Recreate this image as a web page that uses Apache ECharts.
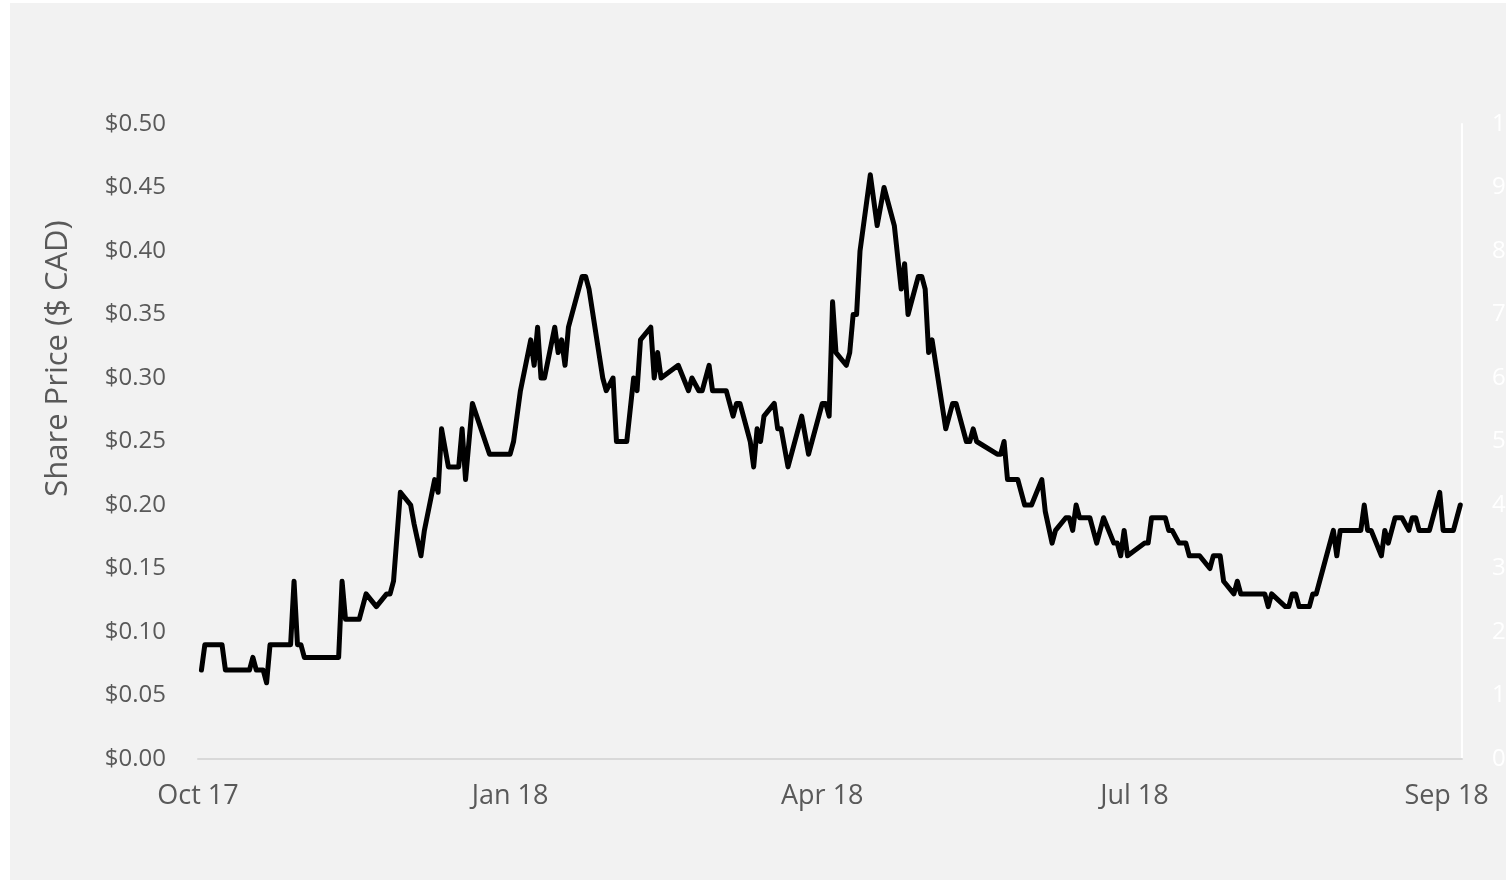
<!DOCTYPE html>
<html>
<head>
<meta charset="utf-8">
<script src="https://cdn.jsdelivr.net/npm/echarts@6/dist/echarts.min.js"></script>
<style>
  html, body { margin: 0; padding: 0; background: #fff; overflow: hidden; }
  #chart { position: absolute; left: 10px; top: 3px; width: 1496px; height: 877px; background: #f2f2f2; }
</style>
</head>
<body>
<div id="chart"></div>
<script>
// days since 1 Oct 2017 for each change in the line
const tradeDays = [
  1, 2, 7, 8, 15, 16, 17, 19, 20, 21,
  27, 28, 29, 30, 31, 41, 42, 43, 47, 49,
  52, 55, 56, 57, 59, 62, 63, 65, 66, 69,
  70, 71, 73, 76, 77, 78, 80, 85, 91, 92,
  94, 97, 98, 99, 100, 101, 104, 105, 106, 107,
  108, 112, 113, 114, 118, 119, 121, 122, 125, 127,
  128, 129, 132, 133, 134, 135, 140, 143, 144, 146,
  147, 149, 150, 154, 156, 157, 158, 161, 162, 163,
  164, 165, 168, 169, 170, 172, 176, 178, 182, 183,
  184, 185, 186, 189, 190, 191, 192, 193, 196, 198,
  200, 203, 205, 206, 207, 210, 211, 212, 213, 214,
  218, 220, 221, 224, 225, 226, 227, 233, 234, 235,
  236, 239, 241, 243, 246, 247, 249, 250, 253, 254,
  255, 256, 257, 260, 262, 264, 267, 268, 269, 270,
  271, 276, 277, 278, 282, 283, 284, 286, 288, 289,
  292, 295, 296, 298, 299, 302, 303, 304, 311, 312,
  313, 317, 318, 319, 320, 321, 324, 325, 326, 328,
  331, 332, 333, 339, 340, 341, 342, 345, 346, 347,
  349, 351, 353, 354, 355, 356, 359, 362, 363, 366,
  368
]

// share price ($ CAD)
const prices = [
  0.07, 0.09, 0.09, 0.07, 0.07, 0.08, 0.07, 0.07, 0.06, 0.09,
  0.09, 0.14, 0.09, 0.09, 0.08, 0.08, 0.14, 0.11, 0.11, 0.13,
  0.12, 0.13, 0.13, 0.14, 0.21, 0.20, 0.185, 0.16, 0.18, 0.22,
  0.21, 0.26, 0.23, 0.23, 0.26, 0.22, 0.28, 0.24, 0.24, 0.25,
  0.29, 0.33, 0.31, 0.34, 0.30, 0.30, 0.34, 0.32, 0.33, 0.31,
  0.34, 0.38, 0.38, 0.37, 0.30, 0.29, 0.30, 0.25, 0.25, 0.30,
  0.29, 0.33, 0.34, 0.30, 0.32, 0.30, 0.31, 0.29, 0.30, 0.29,
  0.29, 0.31, 0.29, 0.29, 0.27, 0.28, 0.28, 0.25, 0.23, 0.26,
  0.25, 0.27, 0.28, 0.26, 0.26, 0.23, 0.27, 0.24, 0.28, 0.28,
  0.27, 0.36, 0.32, 0.31, 0.32, 0.35, 0.35, 0.40, 0.46, 0.42,
  0.45, 0.42, 0.37, 0.39, 0.35, 0.38, 0.38, 0.37, 0.32, 0.33,
  0.26, 0.28, 0.28, 0.25, 0.25, 0.26, 0.25, 0.24, 0.24, 0.25,
  0.22, 0.22, 0.20, 0.20, 0.22, 0.195, 0.17, 0.18, 0.19, 0.19,
  0.18, 0.20, 0.19, 0.19, 0.17, 0.19, 0.17, 0.17, 0.16, 0.18,
  0.16, 0.17, 0.17, 0.19, 0.19, 0.18, 0.18, 0.17, 0.17, 0.16,
  0.16, 0.15, 0.16, 0.16, 0.14, 0.13, 0.14, 0.13, 0.13, 0.12,
  0.13, 0.12, 0.12, 0.13, 0.13, 0.12, 0.12, 0.13, 0.13, 0.15,
  0.18, 0.16, 0.18, 0.18, 0.20, 0.18, 0.18, 0.16, 0.18, 0.17,
  0.19, 0.19, 0.18, 0.19, 0.19, 0.18, 0.18, 0.21, 0.18, 0.18,
  0.20
]

const xTickLabels = ['Oct 17', 'Jan 18', 'Apr 18', 'Jul 18', 'Sep 18']
const xTickStep = 91

const font = '"Open Sans", "DejaVu Sans", sans-serif'

const chart = echarts.init(document.getElementById('chart'))

chart.setOption({
  backgroundColor: '#f2f2f2',
  animation: false,
  grid: { left: 188, right: 44, top: 121, bottom: 121, outerBoundsMode: 'none', containLabel: false },
  xAxis: {
    type: 'value',
    min: 0,
    max: 368.5,
    interval: xTickStep,
    axisLine: { show: true, lineStyle: { color: '#d9d9d9', width: 2 } },
    axisTick: { show: false },
    splitLine: { show: false },
    axisLabel: {
      color: '#595959',
      fontFamily: font,
      fontSize: 27,
      margin: 24,
      showMaxLabel: false,
      formatter: v => (v % xTickStep === 0 ? xTickLabels[v / xTickStep] || '' : '')
    }
  },
  yAxis: [
    {
      type: 'value',
      min: 0,
      max: 0.5,
      interval: 0.05,
      name: 'Share Price ($ CAD)',
      nameLocation: 'middle',
      nameGap: 124,
      nameTextStyle: { color: '#595959', fontFamily: font, fontSize: 31, padding: [0, 0, 0, 166] },
      axisLine: { show: false },
      axisTick: { show: false },
      splitLine: { show: false },
      axisLabel: {
        color: '#595959',
        fontFamily: font,
        fontSize: 24,
        margin: 32,
        formatter: v => '$' + v.toFixed(2)
      }
    },
    {
      type: 'value',
      position: 'right',
      min: 0,
      max: 10,
      interval: 1,
      axisLine: { show: true, lineStyle: { color: '#ffffff', width: 2 } },
      axisTick: { show: false },
      splitLine: { show: false },
      axisLabel: { color: '#ffffff', fontFamily: font, fontSize: 24, margin: 30 }
    }
  ],
  series: [
    {
      type: 'line',
      yAxisIndex: 0,
      data: tradeDays.map((d, i) => [d, prices[i]]),
      showSymbol: false,
      lineStyle: { color: '#000000', width: 5, cap: 'round', join: 'round' }
    }
  ]
})
</script>
</body>
</html>
